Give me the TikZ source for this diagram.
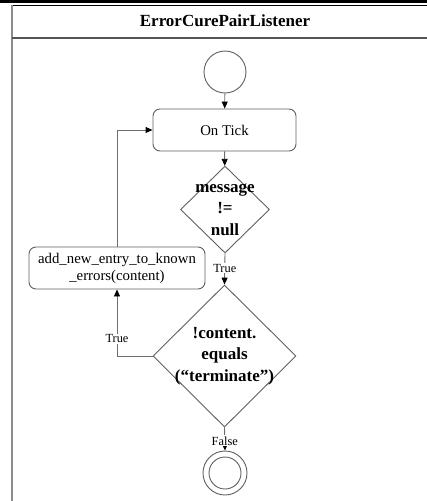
\documentclass[tikz,border=0pt]{standalone}
\usepackage{fontspec}
\setmainfont{Liberation Serif}
\usetikzlibrary{arrows.meta,shapes.geometric}
\definecolor{shapegray}{RGB}{95,95,95}
\definecolor{linkgray}{RGB}{110,110,110}
\definecolor{framegray}{RGB}{140,140,140}
\definecolor{sepgray}{RGB}{85,85,85}
\begin{document}
\begin{tikzpicture}[x=1pt,y=-1pt,
  outline/.style={draw=shapegray, line width=0.9pt},
  actbox/.style={outline, rectangle, rounded corners=7pt, inner sep=0pt,
    align=center, font=\fontsize{14.8}{17}\selectfont},
  dia/.style={outline, diamond, inner sep=0pt},
  condtext/.style={align=center, inner sep=0pt,
    font=\fontsize{17}{21.5}\selectfont\bfseries},
  startnode/.style={outline, circle, inner sep=0pt, minimum size=42pt},
  flow/.style={draw=linkgray, line width=0.9pt,
    -{Triangle[width=6pt,length=7pt,color=black]}},
  guard/.style={fill=white, inner sep=1pt, font=\fontsize{12.4}{14}\selectfont}
]
\useasboundingbox (0,0) rectangle (427,501);

% swimlane frame
\fill[black] (0,0) rectangle (427,3.2);
\draw[black, line width=0.9pt] (12,5.5) -- (427,5.5);
\draw[framegray, line width=1.6pt] (12,5) -- (12,501);
\draw[sepgray, line width=2pt] (12,37.5) -- (427,37.5);
\node[font=\fontsize{17}{20}\selectfont\bfseries] (title) at (225,21) {ErrorCurePairListener};

% nodes
\node[startnode] (start) at (225,72) {};
\node[actbox, minimum width=143pt, minimum height=42pt] (tick) at (224.5,130) {On Tick};
\node[dia, minimum width=89pt, minimum height=87pt] (d1) at (225,209.5) {};
\node[condtext] (d1txt) at (d1.center) {message\\!=\\null};
\node[dia, minimum width=143pt, minimum height=142pt] (d2) at (224.5,356) {};
\node[condtext] (d2txt) at (d2.center) {!content.\\equals\\(“terminate”)};
\node[actbox, minimum width=176pt, minimum height=42pt] (add) at (117,268)
  {add\_new\_entry\_to\_known\\\_errors(content)};
\node[startnode, minimum size=44pt] (stop) at (225,473) {};
\node[outline, circle, inner sep=0pt, minimum size=32pt] (stopin) at (stop.center) {};

% connectors
\draw[flow] (start) -- (tick);
\draw[flow] (tick) -- (d1);
\draw[flow] (d1.south) -- node[guard, pos=0.47] {True} (d2.north);
\draw[flow] (d2.west) -| node[guard, pos=0.63] {True} (add.south);
\draw[flow] (add.north) |- (tick.west);
\draw[flow] (d2.south) -- node[guard, pos=0.58] {False} (stop.north);
\end{tikzpicture}
\end{document}
